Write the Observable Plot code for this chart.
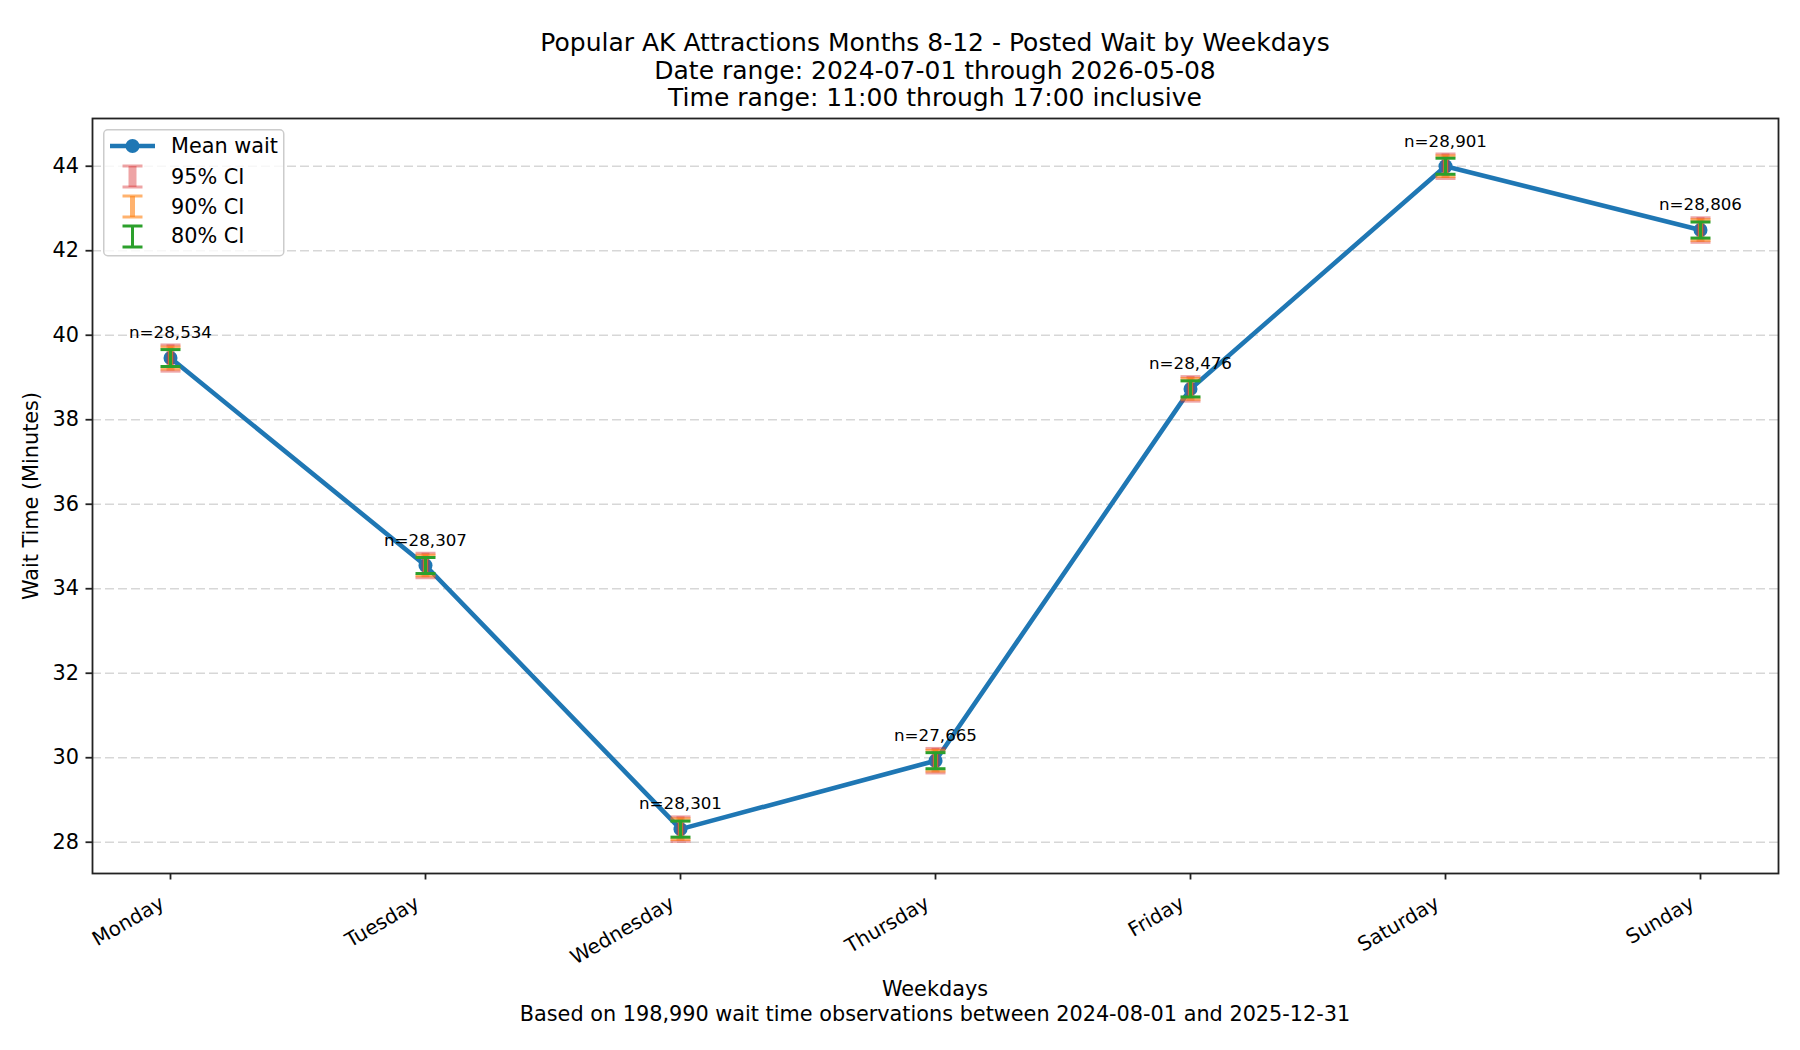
<!DOCTYPE html>
<html><head><meta charset="utf-8">
<script src="https://cdn.jsdelivr.net/npm/d3@7"></script>
<script src="https://cdn.jsdelivr.net/npm/@observablehq/plot@0.6"></script>
<style>
body{margin:0;background:#fff;font-family:"DejaVu Sans",sans-serif;color:#000;}
#wrap{position:relative;width:1800px;height:1050px;overflow:hidden;}
.t{position:absolute;left:92px;width:1686px;text-align:center;white-space:nowrap;}
#title{top:29px;font-size:25px;line-height:27.6px;}
#xlab{top:977px;font-size:20.8px;line-height:25px;}
#cap{top:1002px;font-size:20.8px;line-height:25px;}
#ylab{position:absolute;left:31px;top:496px;transform:translate(-50%,-50%) rotate(-90deg);font-size:20.8px;white-space:nowrap;}
#legend{position:absolute;left:103px;top:129px;}
</style></head><body>
<div id="wrap">
  <div id="chart"></div>
  <div class="t" id="title">Popular AK Attractions Months 8-12 - Posted Wait by Weekdays<br>Date range: 2024-07-01 through 2026-05-08<br>Time range: 11:00 through 17:00 inclusive</div>
  <div class="t" id="xlab">Weekdays</div>
  <div class="t" id="cap">Based on 198,990 wait time observations between 2024-08-01 and 2025-12-31</div>
  <div id="ylab">Wait Time (Minutes)</div>
  <svg id="legend" width="182" height="128" xmlns="http://www.w3.org/2000/svg" font-family="DejaVu Sans" font-size="20.8">
    <rect x="0.75" y="0.75" width="180" height="126" rx="4" fill="#fff" fill-opacity="0.8" stroke="#cccccc" stroke-width="1.5"/>
    <line x1="7" x2="52" y1="17" y2="17" stroke="#1f77b4" stroke-width="4.5"/>
    <circle cx="29.5" cy="17" r="7" fill="#1f77b4"/>
    <text x="68" y="17" dy="0.35em">Mean wait</text>
    <g stroke="#d62728" stroke-opacity="0.42">
      <line x1="29.5" x2="29.5" y1="37" y2="58" stroke-width="8"/>
      <line x1="19.5" x2="39.5" y1="37" y2="37" stroke-width="3"/>
      <line x1="19.5" x2="39.5" y1="58" y2="58" stroke-width="3"/>
    </g>
    <text x="68" y="48" dy="0.35em">95% CI</text>
    <g stroke="#ff7f0e" stroke-opacity="0.6">
      <line x1="29.5" x2="29.5" y1="67" y2="88" stroke-width="5"/>
      <line x1="19.5" x2="39.5" y1="67" y2="67" stroke-width="3"/>
      <line x1="19.5" x2="39.5" y1="88" y2="88" stroke-width="3"/>
    </g>
    <text x="68" y="78" dy="0.35em">90% CI</text>
    <g stroke="#2ca02c">
      <line x1="29.5" x2="29.5" y1="97" y2="118" stroke-width="3"/>
      <line x1="19.5" x2="39.5" y1="97" y2="97" stroke-width="3"/>
      <line x1="19.5" x2="39.5" y1="118" y2="118" stroke-width="3"/>
    </g>
    <text x="68" y="107" dy="0.35em">80% CI</text>
  </svg>
</div>
<script>
const days = ["Monday","Tuesday","Wednesday","Thursday","Friday","Saturday","Sunday"];
const meanWait = [39.46, 34.55, 28.31, 29.93, 38.73, 44.00, 42.49];
const nObs = [28534, 28307, 28301, 27665, 28476, 28901, 28806];
const ci95 = [0.31, 0.29, 0.29, 0.29, 0.29, 0.29, 0.29];
const ci90 = [0.26, 0.245, 0.245, 0.245, 0.245, 0.245, 0.245];
const ci80 = [0.20, 0.19, 0.19, 0.19, 0.19, 0.19, 0.19];
const yTicks = [28, 30, 32, 34, 36, 38, 40, 42, 44];
const yDomain = [27.26, 45.13];

const rows = days.map((d, i) => ({
  day: d, mean: meanWait[i], n: nObs[i],
  h95: ci95[i], h90: ci90[i], h80: ci80[i]
}));

const hline = {draw(ctx) { ctx.moveTo(-10, 0); ctx.lineTo(10, 0); }};
const fmt = d3.format(",");

function ciMarks(key, color, opacity, width) {
  return [
    Plot.ruleX(rows, {x: "day", y1: d => d.mean - d[key], y2: d => d.mean + d[key], stroke: color, strokeOpacity: opacity, strokeWidth: width}),
    Plot.dot(rows, {x: "day", y: d => d.mean - d[key], symbol: hline, stroke: color, strokeOpacity: opacity, strokeWidth: 3, fill: "none"}),
    Plot.dot(rows, {x: "day", y: d => d.mean + d[key], symbol: hline, stroke: color, strokeOpacity: opacity, strokeWidth: 3, fill: "none"})
  ];
}

const chart = Plot.plot({
  width: 1800, height: 1050,
  marginLeft: 92, marginRight: 22, marginTop: 118, marginBottom: 177,
  style: {fontFamily: "DejaVu Sans", fontSize: "20.8px", color: "#000", background: "#fff"},
  x: {type: "point", domain: days, padding: 0.3, align: 0.5},
  y: {domain: yDomain},
  marks: [
    Plot.gridY(yTicks, {stroke: "#b0b0b0", strokeOpacity: 0.5, strokeWidth: 1.5, strokeDasharray: "9,4"}),
    Plot.axisY({ticks: yTicks, tickSize: 6.5, tickPadding: 7, tickFormat: d => d, label: null, fontSize: 20.8, stroke: "#222", strokeWidth: 1.8}),
    Plot.axisX({tickSize: 6.5, tickFormat: () => "", label: null, stroke: "#222", strokeWidth: 1.8}),
    Plot.text(rows, {x: "day", text: "day", frameAnchor: "bottom", rotate: -30, textAnchor: "end", lineAnchor: "middle", dx: -8, dy: 28, fontSize: 20}),
    Plot.line(rows, {x: "day", y: "mean", stroke: "#1f77b4", strokeWidth: 4.6}),
    Plot.dot(rows, {x: "day", y: "mean", r: 7, fill: "#1f77b4", stroke: "none"}),
    ...ciMarks("h95", "#d62728", 0.42, 8),
    ...ciMarks("h90", "#ff7f0e", 0.6, 5),
    ...ciMarks("h80", "#2ca02c", 1, 3),
    Plot.text(rows, {x: "day", y: "mean", text: d => "n=" + fmt(d.n), dy: -25, lineAnchor: "middle", fontSize: 16.7}),
    Plot.frame({stroke: "#222", strokeWidth: 1.8})
  ]
});
document.getElementById("chart").appendChild(chart);
</script>
</body></html>
